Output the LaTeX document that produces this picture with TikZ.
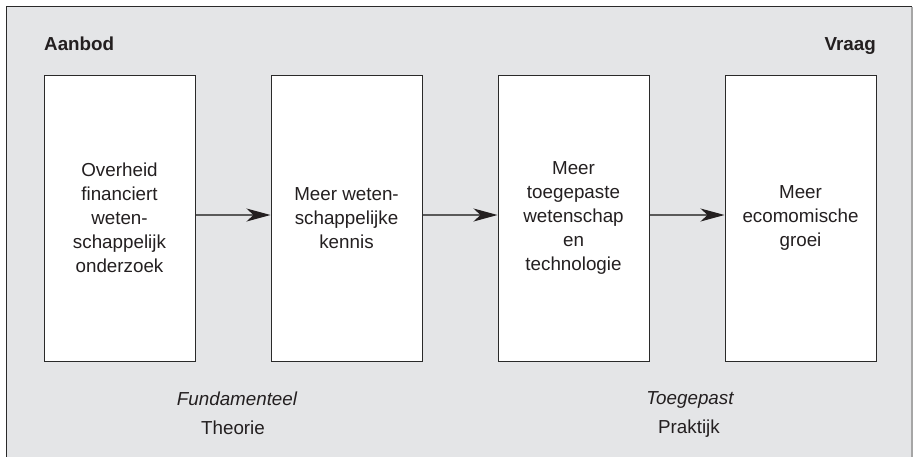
\documentclass[tikz,border=0pt]{standalone}
\usepackage{fontspec}
\setmainfont{Liberation Sans}
\usetikzlibrary{arrows.meta}
\definecolor{bggray}{HTML}{E4E5E7}
\definecolor{txt}{HTML}{231F20}
\definecolor{framec}{HTML}{2A2A2A}
\definecolor{arrowc}{HTML}{5A5A5A}
\tikzset{
  box/.style={draw=framec, line width=1pt, fill=white, minimum width=151pt, minimum height=286pt, inner sep=0pt, align=center, text=txt, font=\fontsize{18.8}{24}\selectfont},
  flow/.style={draw=arrowc, line width=1.3pt, -{Stealth[length=24pt,width=13pt,inset=7pt,color=txt]}},
  head/.style={text=txt, font=\fontsize{18.8}{24}\selectfont\bfseries, inner sep=0pt},
  lab/.style={text=txt, font=\fontsize{18.8}{24}\selectfont, inner sep=0pt},
}
\begin{document}
\begin{tikzpicture}[x=1pt,y=-1pt]
\useasboundingbox (0,0) rectangle (913,456);
\fill[bggray] (6.5,6.5) rectangle (912,470);
\draw[framec, line width=1.4pt] (6.5,470) -- (6.5,6.5) -- (912,6.5);
\draw[gray!70, line width=1.2pt] (912,6.5) -- (912,470);
\node[box] (b1) at (119.5,218) {Overheid\\financiert\\weten-\\schappelijk\\onderzoek};
\node[box] (b2) at (346.5,218) {Meer weten-\\schappelijke\\kennis};
\node[box] (b3) at (573.5,218) {Meer\\toegepaste\\wetenschap\\en\\technologie};
\node[box] (b4) at (800.5,218) {Meer\\ecomomische\\groei};
\draw[flow] (b1.east |- 0,215) -- (b2.west |- 0,215);
\draw[flow] (b2.east |- 0,215) -- (b3.west |- 0,215);
\draw[flow] (b3.east |- 0,215) -- (b4.west |- 0,215);
\node[head, anchor=base west] (aanbod) at (44,50) {Aanbod};
\node[head, anchor=base east] (vraag) at (876,50) {Vraag};
\node[lab, anchor=base, font=\fontsize{18.8}{24}\selectfont\itshape] (fund) at (237,405) {Fundamenteel};
\node[lab, anchor=base] (theo) at (233,434) {Theorie};
\node[lab, anchor=base, font=\fontsize{18.8}{24}\selectfont\itshape] (toeg) at (690,404) {Toegepast};
\node[lab, anchor=base] (prak) at (689,433) {Praktijk};
\end{tikzpicture}
\end{document}
